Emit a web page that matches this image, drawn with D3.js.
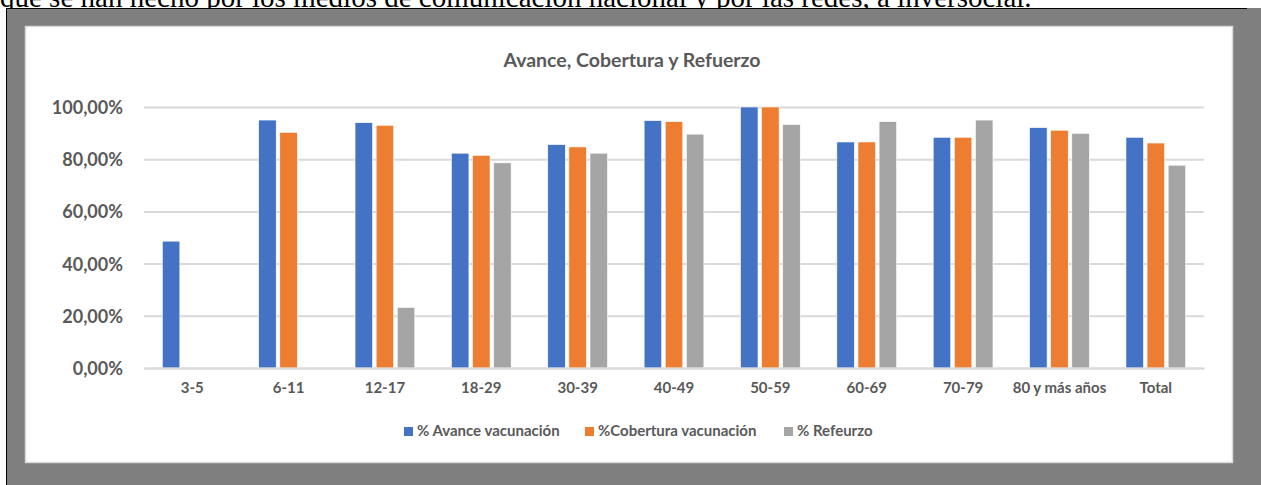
<!DOCTYPE html>
<html>
<head>
<meta charset="utf-8">
<script src="https://cdn.jsdelivr.net/npm/d3@7"></script>
<style>
  body { margin: 0; background: #fff; }
  svg { display: block; }
</style>
</head>
<body>
<svg id="chart" width="1261" height="485"></svg>
<script>
// data
const categories = ["3-5", "6-11", "12-17", "18-29", "30-39", "40-49", "50-59", "60-69", "70-79", "80 y más años", "Total"];
const avance    = [0.486, 0.950, 0.940, 0.823, 0.856, 0.948, 1.000, 0.866, 0.884, 0.921, 0.884];
const cobertura = [0,     0.903, 0.930, 0.815, 0.847, 0.944, 1.000, 0.866, 0.884, 0.911, 0.862];
const refuerzo  = [0,     0,     0.232, 0.786, 0.823, 0.896, 0.933, 0.944, 0.950, 0.899, 0.777];
const seriesNames = ["% Avance vacunación", "%Cobertura vacunación", "% Refeurzo"];
const seriesColors = ["#4472C4", "#ED7D31", "#A5A5A5"];
const yTicks = [0, 0.2, 0.4, 0.6, 0.8, 1.0];

const svg = d3.select("#chart");
const textColor = "#595959";
const font = "Lato, 'Open Sans', sans-serif";

// paragraph text above the picture, cut off by the top edge
svg.append("text")
    .attr("x", 0)
    .attr("y", 6.5)
    .attr("font-family", "'Liberation Serif', 'Times New Roman', serif")
    .attr("font-size", 29)
    .attr("fill", "#000")
    .text("que se han hecho por los medios de comunicación nacional y por las redes, a inversocial.");

// grey frame around the chart picture
svg.append("rect")
    .attr("x", 6).attr("y", 8)
    .attr("width", 1255).attr("height", 477)
    .attr("fill", "#7f7f7f");
svg.append("path")
    .attr("d", "M6.5,485V8.5H1247")
    .attr("fill", "none")
    .attr("stroke", "#000")
    .attr("stroke-width", 1);

// chart area
svg.append("rect")
    .attr("x", 25.5).attr("y", 26.5)
    .attr("width", 1207).attr("height", 436)
    .attr("fill", "#fff")
    .attr("stroke", "#d9d9d9")
    .attr("stroke-width", 1.5);

// title
svg.append("text")
    .attr("x", 632)
    .attr("y", 67)
    .attr("text-anchor", "middle")
    .attr("font-family", font)
    .attr("font-weight", "bold")
    .attr("font-size", 19.5)
    .attr("fill", textColor)
    .text("Avance, Cobertura y Refuerzo");

const plotLeft = 144, plotRight = 1204, plotTop = 107, plotBottom = 368;

const x0 = d3.scaleBand()
    .domain(categories)
    .range([plotLeft, plotRight])
    .paddingInner(0.38)
    .paddingOuter(0.19);

const x1 = d3.scaleBand()
    .domain(seriesNames)
    .range([0, x0.bandwidth()])
    .paddingInner(0.17)
    .paddingOuter(0);

const y = d3.scaleLinear()
    .domain([0, 1])
    .range([plotBottom, plotTop]);

const locale = d3.formatLocale({decimal: ",", thousands: ".", grouping: [3], currency: ["", "€"]});
const pct = locale.format(".2%");

// gridlines + y labels
const yAxis = svg.append("g")
    .attr("transform", `translate(${plotLeft},0)`)
    .call(d3.axisLeft(y).tickValues(yTicks).tickSize(-(plotRight - plotLeft)).tickPadding(21).tickFormat(pct));
yAxis.select(".domain").remove();
yAxis.selectAll(".tick line")
    .attr("stroke", "#d9d9d9")
    .attr("stroke-width", 2);
yAxis.selectAll(".tick text")
    .attr("font-family", font)
    .attr("font-weight", "bold")
    .attr("font-size", 18)
    .attr("fill", textColor)
    .attr("dy", "0.36em");

// bars
const rows = categories.map((c, i) => ({cat: c, values: [avance[i], cobertura[i], refuerzo[i]]}));

svg.append("g")
    .selectAll("g")
    .data(rows)
    .join("g")
    .attr("transform", d => `translate(${x0(d.cat)},0)`)
    .selectAll("rect")
    .data(d => d.values.map((v, k) => ({name: seriesNames[k], value: v, color: seriesColors[k]})))
    .join("rect")
    .attr("x", d => x1(d.name))
    .attr("y", d => y(d.value))
    .attr("width", x1.bandwidth())
    .attr("height", d => y(0) - y(d.value))
    .attr("fill", d => d.color)
    .attr("stroke", "#fff")
    .attr("stroke-width", d => d.value > 0 ? 0.6 : 0);

// x axis
const xAxis = svg.append("g")
    .attr("transform", `translate(0,${plotBottom})`)
    .call(d3.axisBottom(x0).tickSize(0).tickPadding(14));
xAxis.select(".domain")
    .attr("stroke", "#d9d9d9")
    .attr("stroke-width", 2);
xAxis.selectAll(".tick text")
    .attr("font-family", font)
    .attr("font-weight", "bold")
    .attr("font-size", 15)
    .attr("fill", textColor);

// legend
const legendX = [404, 585, 784];
const legend = svg.append("g")
    .selectAll("g")
    .data(seriesNames)
    .join("g")
    .attr("transform", (d, i) => `translate(${legendX[i]},427)`);
legend.append("rect")
    .attr("width", 9).attr("height", 9)
    .attr("fill", (d, i) => seriesColors[i]);
legend.append("text")
    .attr("x", 13)
    .attr("y", 9)
    .attr("font-family", font)
    .attr("font-weight", "bold")
    .attr("font-size", 15)
    .attr("fill", textColor)
    .text(d => d);
</script>
</body>
</html>
